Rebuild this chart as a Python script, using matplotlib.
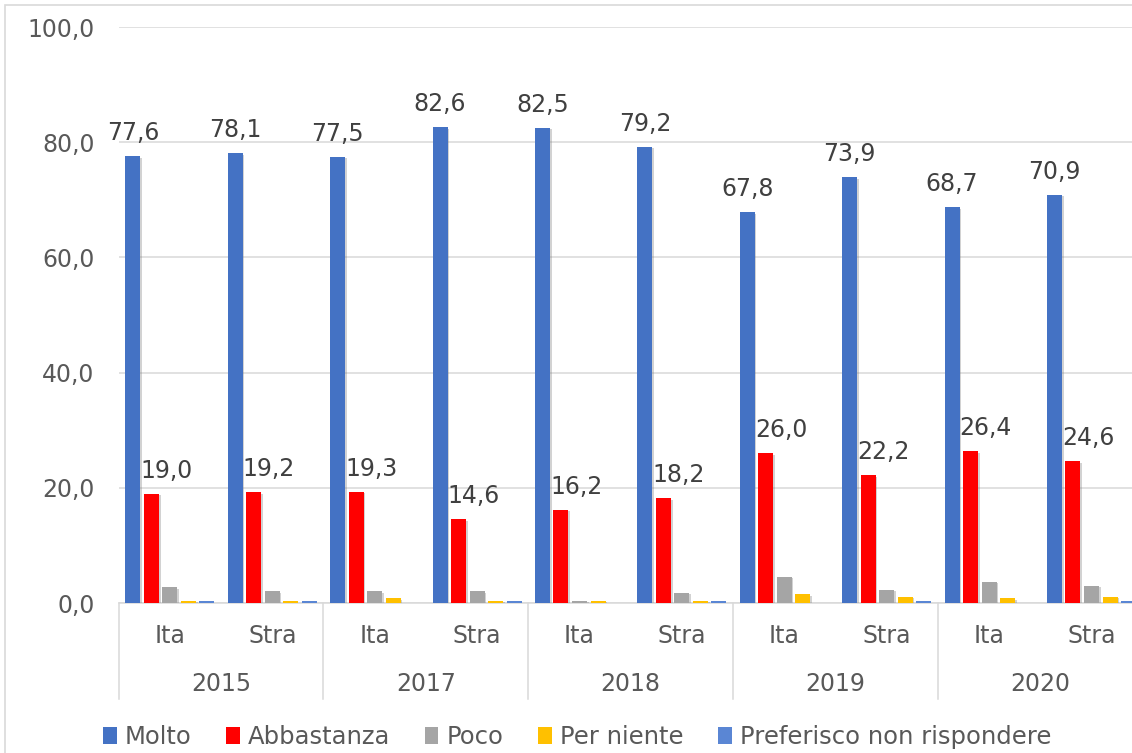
import matplotlib
matplotlib.use("Agg")
import matplotlib.pyplot as plt
import matplotlib.patheffects as pe
from matplotlib.patches import Rectangle
import numpy as np

# Datos
anni = ["2015", "2017", "2018", "2019", "2020"]
gruppi = ["Ita", "Stra"]
serie = ["Molto", "Abbastanza", "Poco", "Per niente", "Preferisco non rispondere"]

molto = [77.6, 78.1, 77.5, 82.6, 82.5, 79.2, 67.8, 73.9, 68.7, 70.9]
abbastanza = [19.0, 19.2, 19.3, 14.6, 16.2, 18.2, 26.0, 22.2, 26.4, 24.6]
poco = [2.7, 2.1, 2.1, 2.1, 0.4, 1.8, 4.6, 2.3, 3.7, 3.0]
per_niente = [0.4, 0.3, 0.8, 0.4, 0.4, 0.4, 1.5, 1.1, 0.8, 1.1]
preferisco = [0.3, 0.3, 0.0, 0.3, 0.0, 0.3, 0.0, 0.3, 0.0, 0.3]

colori = ["#4472C4", "#FF0000", "#A5A5A5", "#FFC000", "#5A86D4"]
valori = [molto, abbastanza, poco, per_niente, preferisco]

testo_grigio = "#595959"
testo_scuro = "#404040"
linea = "#D9D9D9"
fs = 17

fig = plt.figure(figsize=(11.32, 7.53), dpi=100)
ax = fig.add_axes([118.7 / 1132, 150 / 753, 1024 / 1132, 576 / 753])

x = np.arange(len(molto))
slot = 0.181
larg = 0.146
ombra = [pe.SimplePatchShadow(offset=(1.2, -1.2), shadow_rgbFace="#7f7f7f", alpha=0.35), pe.Normal()]

barre = []
for i, (nome, vals, c) in enumerate(zip(serie, valori, colori)):
    b = ax.bar(x + (i - 2) * slot, vals, width=larg, color=c, label=nome, zorder=3)
    for r in b:
        r.set_path_effects(ombra)
    barre.append(b)

# Etichette solo per Molto e Abbastanza (quelle di Abbastanza un po' spostate a destra)
for b, dx in zip(barre[:2], [0, 11]):
    for r in b:
        h = r.get_height()
        ax.annotate(f"{h:.1f}".replace(".", ","),
                    (r.get_x() + r.get_width() / 2, h),
                    xytext=(dx, 11.5), textcoords="offset points",
                    ha="center", va="baseline", fontsize=fs, color=testo_scuro)

ax.set_xlim(-0.5, len(molto) - 0.5)
ax.set_ylim(0, 100)
ax.set_yticks(np.arange(0, 101, 20))
ax.set_yticklabels([f"{v:.1f}".replace(".", ",") for v in np.arange(0, 101, 20)])
ax.tick_params(axis="y", length=0, pad=17.5, labelsize=fs, labelcolor=testo_grigio)
ax.tick_params(axis="x", length=0, labelbottom=False)
ax.yaxis.grid(True, color=linea, linewidth=1.1, zorder=0)
ax.set_axisbelow(True)
for s in ["left", "right", "top"]:
    ax.spines[s].set_visible(False)
ax.spines["bottom"].set_color(linea)
ax.spines["bottom"].set_linewidth(1.1)

# Asse categorie a due livelli
trans = ax.get_xaxis_transform()
for k in range(len(molto)):
    ax.text(k, -0.0573, gruppi[k % 2], transform=trans, ha="center", va="center",
            fontsize=fs, color=testo_grigio)
for j, anno in enumerate(anni):
    ax.text(2 * j + 0.5, -0.1406, anno, transform=trans, ha="center", va="center",
            fontsize=fs, color=testo_grigio)
for d in np.arange(-0.5, len(molto), 2):
    ax.plot([d, d], [0, -0.1667], transform=trans, color=linea, linewidth=1.1,
            clip_on=False)

leg = fig.legend(loc="center", bbox_to_anchor=(0.51, 1 - 737 / 753), ncol=5,
                 frameon=False, fontsize=17.5, handlelength=0.55, handleheight=0.65,
                 handletextpad=0.35, columnspacing=1.42, labelcolor=testo_grigio)
for h in leg.legend_handles:
    h.set_path_effects([])

# Bordo del grafico
fig.add_artist(Rectangle((5 / 1132, -0.1), 1.2, 1 - 5 / 753 + 0.1, transform=fig.transFigure,
                         fill=False, edgecolor=linea, linewidth=1.2))

fig.savefig("out.png", dpi=100)
